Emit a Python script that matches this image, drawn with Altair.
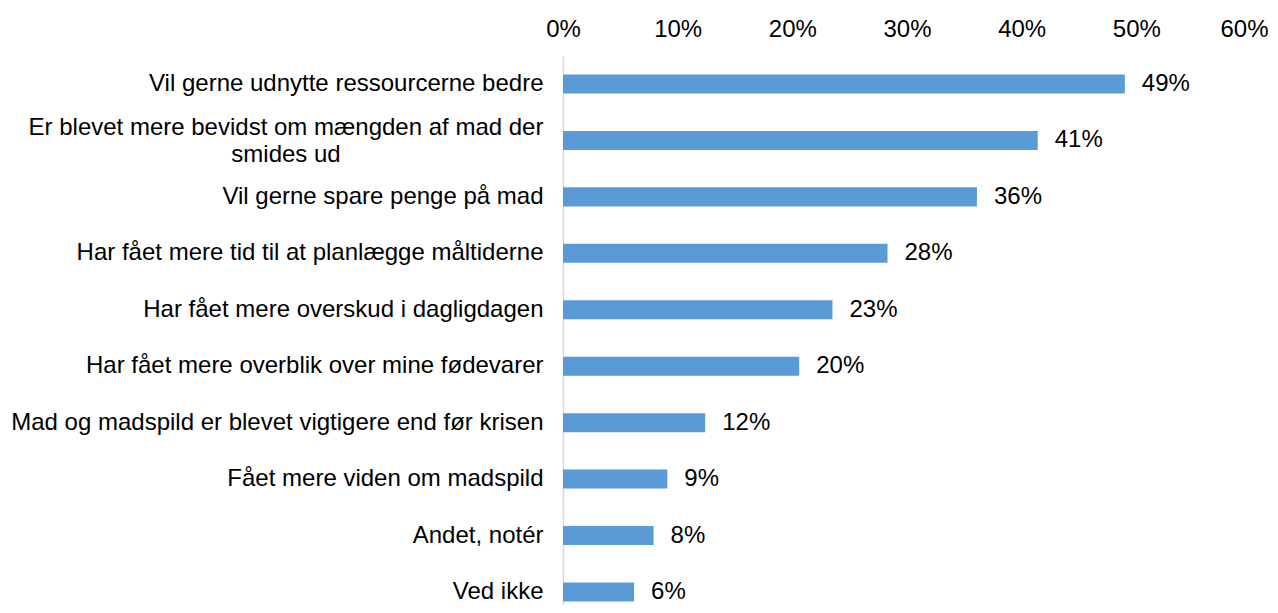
import altair as alt
import pandas as pd

categories = [
    "Vil gerne udnytte ressourcerne bedre",
    "Er blevet mere bevidst om mængden af mad der smides ud",
    "Vil gerne spare penge på mad",
    "Har fået mere tid til at planlægge måltiderne",
    "Har fået mere overskud i dagligdagen",
    "Har fået mere overblik over mine fødevarer",
    "Mad og madspild er blevet vigtigere end før krisen",
    "Fået mere viden om madspild",
    "Andet, notér",
    "Ved ikke",
]
wrapped_category = "Er blevet mere bevidst om mængden af mad der smides ud"
wrapped_lines = "Er blevet mere bevidst om mængden af mad der\nsmides ud"
values = [0.490, 0.414, 0.361, 0.283, 0.235, 0.206, 0.124, 0.091, 0.079, 0.062]
value_labels = ["49%", "41%", "36%", "28%", "23%", "20%", "12%", "9%", "8%", "6%"]
x_ticks = [0.0, 0.1, 0.2, 0.3, 0.4, 0.5, 0.6]

df = pd.DataFrame({"cat": categories, "val": values, "lab": value_labels})
df["disp"] = [wrapped_lines if c == wrapped_category else c for c in categories]

FONT = "Liberation Sans"
FS = 24

y_scale = alt.Scale(paddingInner=0.663, paddingOuter=0.195, align=0.84)

y_enc = alt.Y(
    "cat:N",
    sort=categories,
    scale=y_scale,
    axis=alt.Axis(
        title=None,
        labelExpr=f"datum.value == '{wrapped_category}' ? '' : datum.label",
        labelFont=FONT,
        labelFontSize=FS,
        labelColor="#000000",
        labelPadding=20,
        labelLimit=0,
        ticks=False,
        domain=True,
        domainColor="#d9d9d9",
        domainWidth=1.5,
        grid=False,
    ),
)

x_enc = alt.X(
    "val:Q",
    scale=alt.Scale(domain=[0, 0.6], nice=False),
    axis=alt.Axis(
        orient="top",
        title=None,
        values=x_ticks,
        format=".0%",
        labelFont=FONT,
        labelFontSize=FS,
        labelColor="#000000",
        labelPadding=15,
        labelFlush=False,
        labelOffset={"condition": {"test": "datum.value >= 0.59", "value": -7}, "value": 0},
        ticks=False,
        domain=False,
        grid=False,
    ),
)

bars = alt.Chart(df).mark_bar(color="#5B9BD5").encode(y=y_enc, x=x_enc)

texts = alt.Chart(df).mark_text(
    align="left", baseline="middle", dx=17, font=FONT, fontSize=FS, color="#000000"
).encode(y=alt.Y("cat:N", sort=categories), x="val:Q", text="lab:N")

wrapped = (
    alt.Chart(df)
    .transform_filter(alt.datum.cat == wrapped_category)
    .mark_text(
        align="center",
        baseline="middle",
        lineBreak="\n",
        lineHeight=27,
        dy=-12,
        font=FONT,
        fontSize=FS,
        color="#000000",
    )
    .encode(y=alt.Y("cat:N", sort=categories), x=alt.value(-277), text="disp:N")
)

chart = (
    alt.layer(bars, texts, wrapped)
    .properties(
        width=688,
        height=549,
        autosize=alt.AutoSizeParams(type="none"),
        padding={"left": 555, "top": 48, "right": 19, "bottom": 0},
        background="white",
    )
    .configure_view(stroke=None)
)

chart.save("out.html", embed_options={"renderer": "svg", "actions": False})
